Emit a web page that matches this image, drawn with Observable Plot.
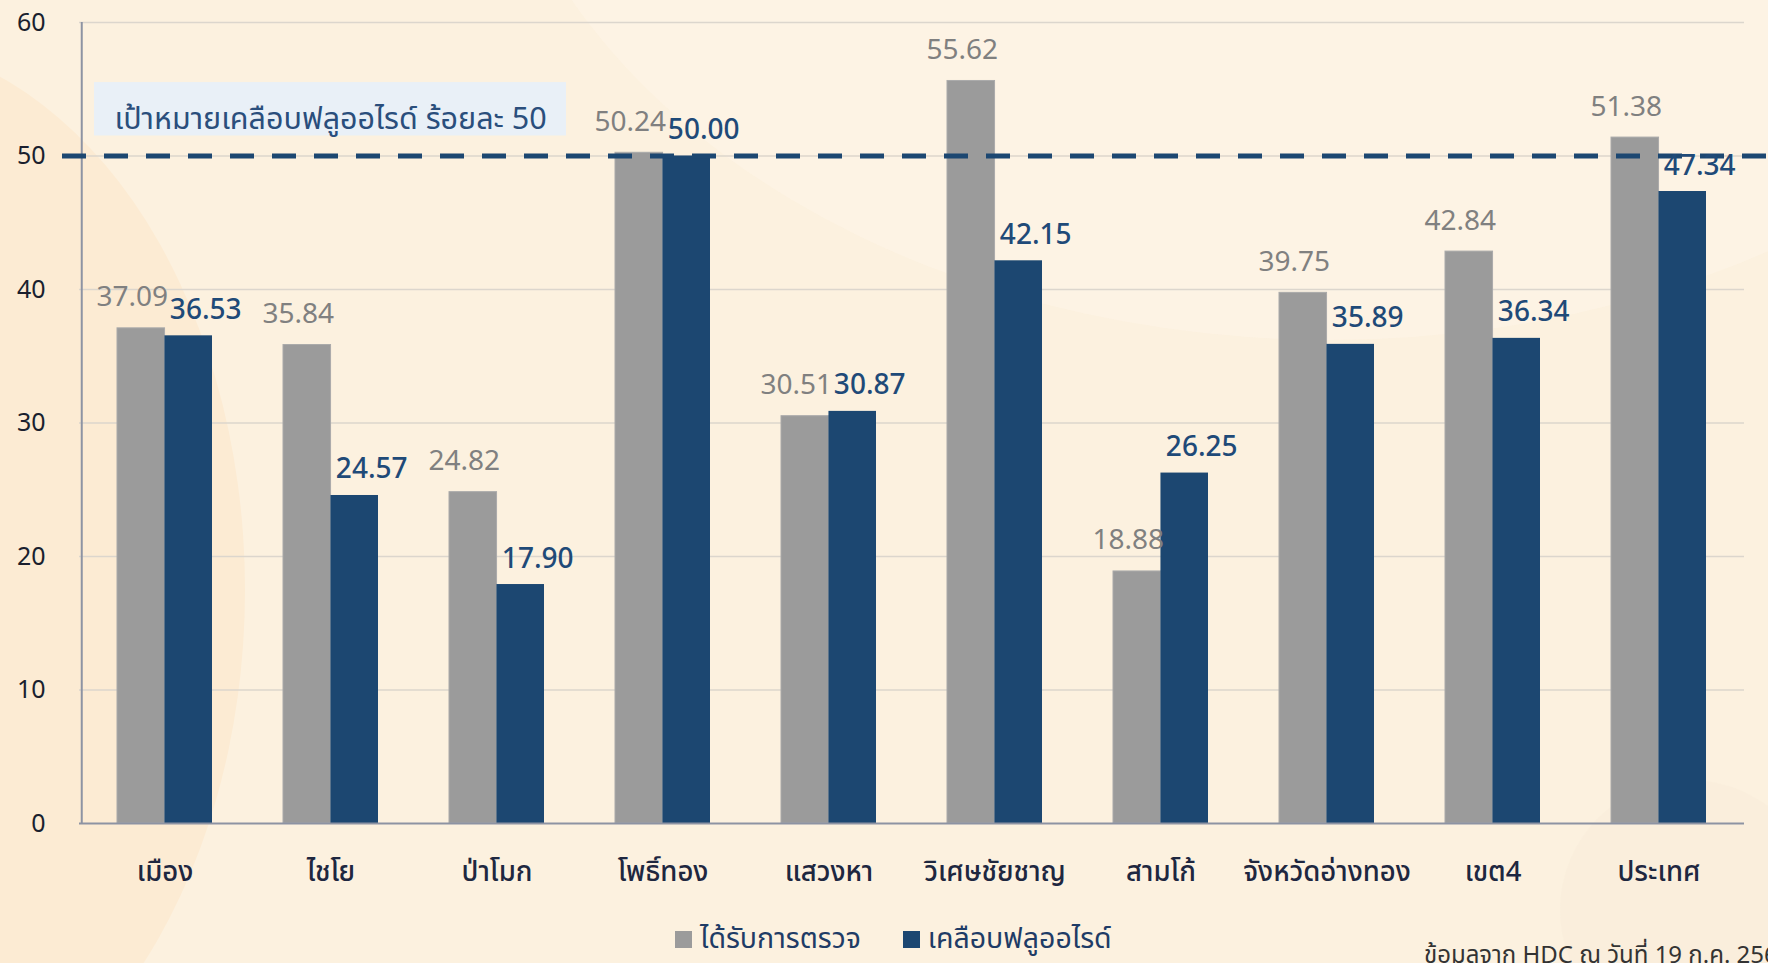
<!DOCTYPE html>
<html>
<head>
<meta charset="utf-8">
<script src="https://cdn.jsdelivr.net/npm/d3@7"></script>
<script src="https://cdn.jsdelivr.net/npm/@observablehq/plot@0.6"></script>
<style>
  html, body { margin: 0; padding: 0; }
  body {
    width: 1768px; height: 963px; overflow: hidden; position: relative;
    background: #fcf1df;
    font-family: "Noto Sans Thai", "Leelawadee UI", Tahoma, "Noto Sans", "DejaVu Sans", sans-serif;
  }
  .deco { position: absolute; border-radius: 50%; pointer-events: none; }
  #chart { position: absolute; left: 0; top: 0; }
  #chart svg { background: transparent; overflow: visible; }
  #legend { position: absolute; left: 675px; top: 918px; display: flex; align-items: center; font-size: 28.5px; color: #1f3c66; }
  #legend .item { display: flex; align-items: center; margin-right: 42px; }
  #legend .sw { width: 17px; height: 17px; margin-right: 8px; }
  #source { position: absolute; left: 1424px; top: 938px; font-size: 24px; color: #333; white-space: nowrap; }
</style>
</head>
<body>
<div class="deco" style="left:-520px; top:40px; width:765px; height:1100px; background:#fcebd3;"></div>
<div class="deco" style="left:480px; top:-900px; width:1700px; height:1240px; background:#fdf4e6; opacity:0.7;"></div>
<div class="deco" style="left:1560px; top:780px; width:260px; height:260px; background:#f9ecda; opacity:0.6;"></div>
<div id="chart"></div>
<div id="legend"></div>
<div id="source"></div>
<script>
const categories = ["เมือง", "ไชโย", "ป่าโมก", "โพธิ์ทอง", "แสวงหา", "วิเศษชัยชาญ", "สามโก้", "จังหวัดอ่างทอง", "เขต4", "ประเทศ"];
const screened = [37.09, 35.84, 24.82, 50.24, 30.51, 55.62, 18.88, 39.75, 42.84, 51.38];
const sealed = [36.53, 24.57, 17.90, 50.00, 30.87, 42.15, 26.25, 35.89, 36.34, 47.34];
const seriesNames = ["ได้รับการตรวจ", "เคลือบฟลูออไรด์"];
const seriesColors = ["#9b9b9b", "#1c4771"];
const yTicks = [0, 10, 20, 30, 40, 50, 60];
const target = 50;
const targetLabel = "เป้าหมายเคลือบฟลูออไรด์ ร้อยละ 50";
const sourceNote = "ข้อมูลจาก HDC ณ วันที่ 19 ก.ค. 2567";

const W = 1768, H = 900;
const mL = 79, mR = 24, mT = 22, mB = 77;
const pInner = 0.43, pOuter = 0.215;
const step = (W - mL - mR) / (categories.length - pInner + 2 * pOuter);
const half = step * (1 - pInner) / 2;

const rowsA = categories.map((c, i) => ({cat: c, v: screened[i]}));
const rowsB = categories.map((c, i) => ({cat: c, v: sealed[i]}));

const font = "'Noto Sans Thai', 'Leelawadee UI', Tahoma, 'Noto Sans', 'DejaVu Sans', sans-serif";

const chart = Plot.plot({
  width: W, height: H,
  marginLeft: mL, marginRight: mR, marginTop: mT, marginBottom: mB,
  style: {background: "transparent", fontFamily: font},
  x: {domain: categories, paddingInner: pInner, paddingOuter: pOuter, label: null},
  y: {domain: [0, 60], ticks: yTicks, label: null},
  marks: [
    Plot.gridY(yTicks.filter(d => d > 0), {stroke: "#dcd6cd", strokeOpacity: 1, strokeWidth: 1.5}),
    Plot.rect([{y1: target + 1.5, y2: target + 5.5}], {y1: "y1", y2: "y2", fill: "#e9f0f7", insetLeft: 15, insetRight: 1178}),
    Plot.text([targetLabel], {frameAnchor: "left", y: target + 3.5, dx: 35, dy: 10, text: d => d, fontSize: 30.5, fill: "#2a4e7c", textAnchor: "start"}),
    Plot.barY(rowsA, {x: "cat", y: "v", fill: seriesColors[0], stroke: "#aaaaaa", strokeWidth: 1, insetRight: half}),
    Plot.barY(rowsB, {x: "cat", y: "v", fill: seriesColors[1], insetLeft: half}),
    Plot.ruleY([0], {stroke: "#8d93a3", strokeWidth: 2}),
    Plot.ruleX([categories[0]], {x: d => d, y1: 0, y2: 60, stroke: "#8d93a3", strokeWidth: 2, dx: -(step * pOuter + half)}),
    Plot.ruleY([target], {stroke: "#1c4771", strokeWidth: 5, strokeDasharray: "24,18", insetLeft: -17, insetRight: -mR}),
    Plot.text(rowsA, {x: "cat", y: "v", text: d => d.v.toFixed(2), dx: -half / 2 - 9, dy: -22, lineAnchor: "bottom", fontSize: 28, fill: "#808080"}),
    Plot.text(rowsB, {x: "cat", y: "v", text: d => d.v.toFixed(2), dx: half / 2 + 17, dy: -17, lineAnchor: "bottom", fontSize: 28, fontWeight: 500, fill: "#1f4a78"}),
    Plot.axisY({ticks: yTicks, tickSize: 0, tickPadding: 34, fontSize: 25, fill: "#1a1f2e", label: null}),
    Plot.axisX({tickSize: 0, tickPadding: 38, fontSize: 27.5, fontWeight: 500, fill: "#1e2740", label: null})
  ]
});
document.getElementById("chart").appendChild(chart);

const legend = document.getElementById("legend");
seriesNames.forEach((n, i) => {
  const it = document.createElement("div");
  it.className = "item";
  const sw = document.createElement("div");
  sw.className = "sw"; sw.style.background = seriesColors[i];
  const t = document.createElement("span"); t.textContent = n;
  it.appendChild(sw); it.appendChild(t);
  legend.appendChild(it);
});
document.getElementById("source").textContent = sourceNote;
</script>
</body>
</html>
